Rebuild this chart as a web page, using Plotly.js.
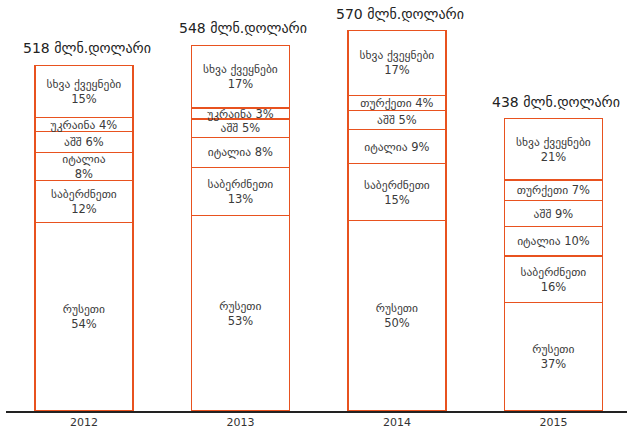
<!DOCTYPE html>
<html>
<head>
<meta charset="utf-8">
<script src="https://cdn.plot.ly/plotly-3.0.1.min.js"></script>
<style>html,body{margin:0;padding:0;background:#fff;}#chart{width:627px;height:432px;}</style>
</head>
<body>
<div id="chart"></div>
<script>
// Data
var years = ['2012', '2013', '2014', '2015'];
var totals = [518, 548, 570, 438];           // million USD
var totalUnit = 'მლნ.დოლარი';

var russiaName = 'რუსეთი';
var russiaPct = [54, 53, 50, 37];

var greeceName = 'საბერძნეთი';
var greecePct = [12, 13, 15, 16];

var italyName = 'იტალია';
var italyPct = [8, 8, 9, 10];

var usaName = 'აშშ';
var usaPct = [6, 5, 5, 9];

var fifthNames = ['უკრაინა', 'უკრაინა', 'თურქეთი', 'თურქეთი'];
var fifthPct = [4, 3, 4, 7];

var otherName = 'სხვა ქვეყნები';
var otherPct = [15, 17, 17, 21];

// label layout: two-line (true) or one-line (false)
var russiaTwoLine = [true, true, true, true];
var greeceTwoLine = [true, true, true, true];
var italyTwoLine = [true, false, false, false];
var usaTwoLine = [false, false, false, false];
var fifthTwoLine = [false, false, false, false];
var otherTwoLine = [true, true, true, true];

var FONT = 'DejaVu Sans, sans-serif';
var EDGE = '#E8521F';

var pctSums = years.map(function (_, i) {
  return russiaPct[i] + greecePct[i] + italyPct[i] + usaPct[i] + fifthPct[i] + otherPct[i];
});

function seg(pcts, names, twoLine) {
  return {
    type: 'bar',
    x: years,
    y: pcts.map(function (p, i) { return totals[i] * p / pctSums[i]; }),
    text: pcts.map(function (p, i) {
      var n = Array.isArray(names) ? names[i] : names;
      return n + (twoLine[i] ? '<br>' : ' ') + p + '%';
    }),
    textposition: 'inside',
    insidetextanchor: 'middle',
    textangle: 0,
    textfont: {family: FONT, size: 11.5, color: '#3a3a3a'},
    marker: {color: '#ffffff', line: {color: EDGE, width: 1.2}},
    width: 0.626,
    hoverinfo: 'none',
    showlegend: false,
    cliponaxis: false
  };
}

var data = [
  seg(russiaPct, russiaName, russiaTwoLine),
  seg(greecePct, greeceName, greeceTwoLine),
  seg(italyPct, italyName, italyTwoLine),
  seg(usaPct, usaName, usaTwoLine),
  seg(fifthPct, fifthNames, fifthTwoLine),
  seg(otherPct, otherName, otherTwoLine)
];

var annotations = years.map(function (yr, i) {
  return {
    x: i, y: totals[i], xref: 'x', yref: 'y',
    text: totals[i] + ' ' + totalUnit,
    showarrow: false, yanchor: 'bottom', yshift: 7, xshift: 3,
    font: {family: FONT, size: 14, color: '#222'}
  };
});

var layout = {
  width: 627, height: 432,
  margin: {l: 6, r: 0, t: 0, b: 21},
  paper_bgcolor: '#fff', plot_bgcolor: '#fff',
  barmode: 'stack',
  uniformtext: {minsize: 11.5, mode: 'show'},
  xaxis: {
    type: 'category', range: [-0.498, 3.47],
    showline: true, linecolor: '#222', linewidth: 2,
    ticks: '', showgrid: false, zeroline: false,
    tickfont: {family: FONT, size: 11, color: '#333'},
    fixedrange: true
  },
  yaxis: {
    range: [0, 615.7], visible: false, showgrid: false, zeroline: false, fixedrange: true
  },
  annotations: annotations,
  showlegend: false
};

Plotly.newPlot('chart', data, layout, {displayModeBar: false, staticPlot: true});
</script>
</body>
</html>
